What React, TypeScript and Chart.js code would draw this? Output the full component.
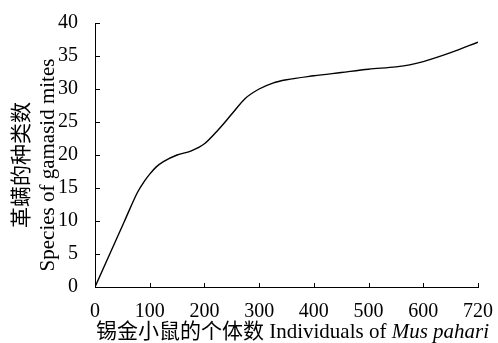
import React, { useEffect, useRef } from "react";
import { Chart, registerables } from "chart.js";

Chart.register(...registerables);

// Axis positions of the individuals (last axis tick is labelled 720)
const INDIVIDUALS = [0, 27, 54, 78, 90, 100, 112, 125, 150, 175, 200, 225, 250, 275, 300, 325, 350, 400, 450, 500, 550, 575, 600, 650, 700];
const SPECIES = [0, 5, 10, 14.4, 16.0, 17.1, 18.2, 19.0, 20.0, 20.6, 21.7, 23.8, 26.2, 28.6, 30.0, 30.9, 31.4, 32.0, 32.5, 33.0, 33.35, 33.65, 34.15, 35.5, 37.1];
const X_TICK_LABELS = ["0", "100", "200", "300", "400", "500", "600", "720"];
const Y_TITLE_LINES = ["革螨的种类数", "Species of gamasid mites"];
const X_TITLE_MAIN = "锡金小鼠的个体数 Individuals of ";
const X_TITLE_ITALIC = "Mus pahari";

const FAMILY = '"Liberation Serif", "Noto Sans CJK SC", serif';

const decorPlugin = {
  id: "decor",
  afterDraw(chart: any) {
    const ctx = chart.ctx;
    const area = chart.chartArea;
    const xs = chart.scales.x;
    const ys = chart.scales.y;
    ctx.save();
    ctx.strokeStyle = "#000";
    ctx.lineWidth = 1;
    ctx.beginPath();
    xs.ticks.forEach((t: any) => {
      const px = Math.round(xs.getPixelForValue(t.value)) + 0.5;
      ctx.moveTo(px, area.bottom);
      ctx.lineTo(px, area.bottom - 4);
    });
    ys.ticks.forEach((t: any) => {
      const py = Math.round(ys.getPixelForValue(t.value)) + 0.5;
      ctx.moveTo(area.left, py);
      ctx.lineTo(area.left + 5, py);
    });
    ctx.stroke();

    ctx.fillStyle = "#000";
    ctx.textBaseline = "middle";
    // x title (mixed normal / italic)
    const normal = `21px ${FAMILY}`;
    const italic = `italic 21px ${FAMILY}`;
    ctx.font = normal;
    const w1 = ctx.measureText(X_TITLE_MAIN).width;
    ctx.font = italic;
    const w2 = ctx.measureText(X_TITLE_ITALIC).width;
    const cx = (area.left + area.right) / 2 + 6;
    const ty = area.bottom + 45;
    const x0 = cx - (w1 + w2) / 2;
    ctx.textAlign = "left";
    ctx.font = normal;
    ctx.fillText(X_TITLE_MAIN, x0, ty);
    ctx.font = italic;
    ctx.fillText(X_TITLE_ITALIC, x0 + w1, ty);

    // y title, two rotated lines
    ctx.font = normal;
    ctx.textAlign = "center";
    const cy = (area.top + area.bottom) / 2 + 10;
    Y_TITLE_LINES.forEach((line, i) => {
      ctx.save();
      ctx.translate(22 + i * 26.5, cy);
      ctx.rotate(-Math.PI / 2);
      ctx.fillText(line, 0, 0);
      ctx.restore();
    });
    ctx.restore();
  },
};

export default function App() {
  const ref = useRef<HTMLCanvasElement | null>(null);
  useEffect(() => {
    document.body.style.margin = "0";
    const canvas = ref.current;
    if (!canvas) return;
    const chart = new Chart(canvas, {
      type: "line",
      data: {
        datasets: [
          {
            data: INDIVIDUALS.map((x, i) => ({ x, y: SPECIES[i] })),
            borderColor: "#000",
            borderWidth: 1.4,
            pointRadius: 0,
            fill: false,
            cubicInterpolationMode: "monotone",
          },
        ],
      },
      options: {
        animation: false,
        responsive: false,
        maintainAspectRatio: false,
        layout: { padding: { top: 23, right: 19, left: 0, bottom: 0 } },
        plugins: { legend: { display: false }, tooltip: { enabled: false } },
        scales: {
          x: {
            type: "linear",
            min: 0,
            max: 700,
            afterFit: (s: any) => {
              s.height = 56;
            },
            grid: { display: false },
            border: { display: true, color: "#000", width: 1 },
            ticks: {
              stepSize: 100,
              color: "#000",
              padding: 5,
              maxRotation: 0,
              font: { family: FAMILY, size: 20 },
              callback: (v: any) => X_TICK_LABELS[Math.round(Number(v) / 100)],
            },
          },
          y: {
            min: 0,
            max: 40,
            afterFit: (s: any) => {
              s.width = 95;
            },
            grid: { display: false },
            border: { display: true, color: "#000", width: 1 },
            ticks: {
              stepSize: 5,
              color: "#000",
              padding: 9,
              font: { family: FAMILY, size: 20 },
            },
          },
        },
      },
      plugins: [decorPlugin],
    } as any);
    return () => chart.destroy();
  }, []);
  return (
    <div style={{ width: 498, height: 343 }}>
      <canvas ref={ref} width={498} height={343} style={{ display: "block" }} />
    </div>
  );
}
